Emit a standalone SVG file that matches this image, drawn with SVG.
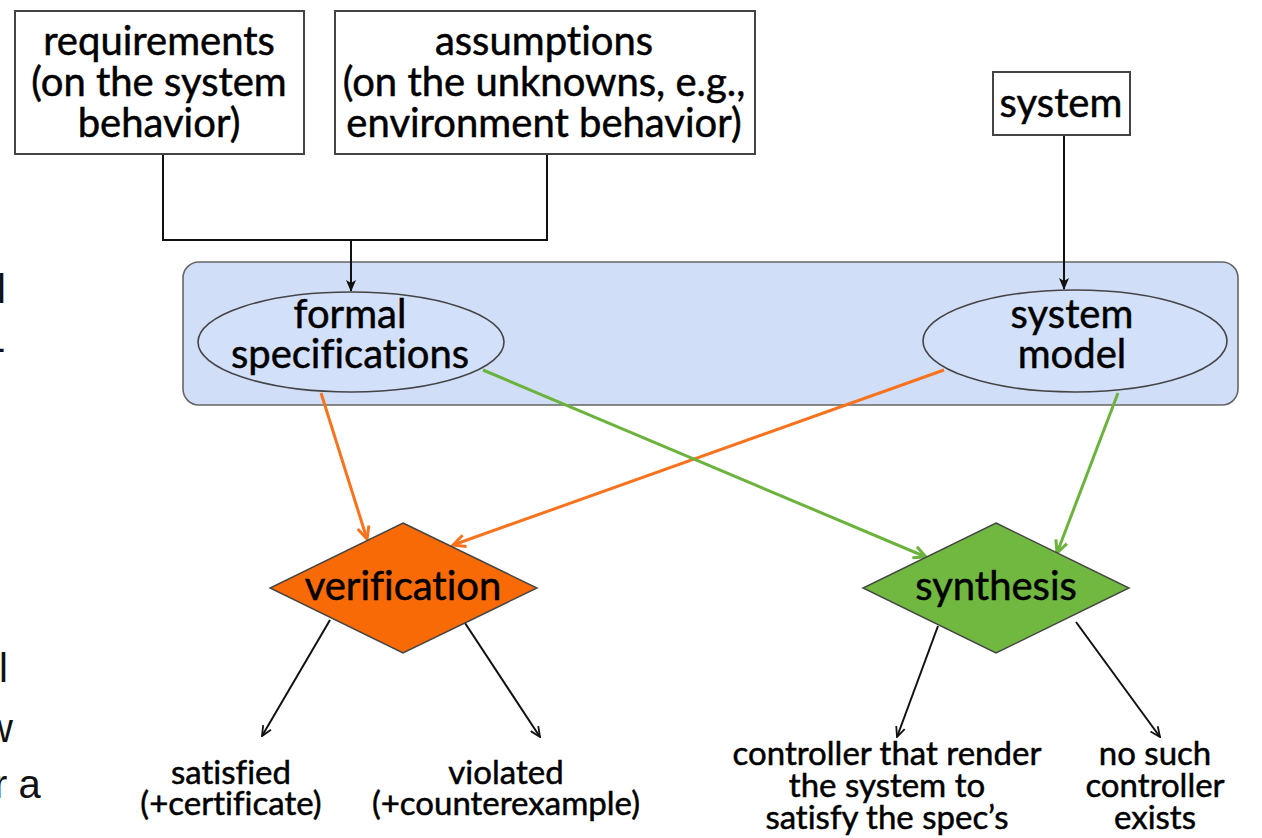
<svg xmlns="http://www.w3.org/2000/svg" width="1262" height="838" viewBox="0 0 1262 838">
  <style>
    .lbl { font-family: Lato, "Open Sans", "DejaVu Sans", sans-serif; fill: #000; stroke: #000; stroke-width: 0.5; text-anchor: middle; font-variant-ligatures: none; }
    .big { font-size: 40px; }
    .small { font-size: 33px; }
    .edge { font-family: "Liberation Sans", Arial, sans-serif; font-size: 40px; fill: #111; }
    .box { fill: #fff; stroke: #444; stroke-width: 2; }
    .oval { fill: #d3e0f9; stroke: #444; stroke-width: 1.6; }
    .wire { fill: none; stroke: #111; stroke-width: 2; }
    .orange { fill: none; stroke: #f8731e; stroke-width: 3; }
    .green { fill: none; stroke: #6cb33e; stroke-width: 3; }
  </style>
  <defs>
    <marker id="ah-solid" viewBox="0 0 12 12" refX="11" refY="6" markerWidth="12" markerHeight="12" markerUnits="userSpaceOnUse" orient="auto">
      <path d="M0,1 L12,6 L0,11 L3,6 z" fill="#111"/>
    </marker>
    <marker id="ah-black" viewBox="0 0 12 12" refX="11" refY="6" markerWidth="12" markerHeight="12" markerUnits="userSpaceOnUse" orient="auto">
      <path d="M1,1.5 L11,6 L1,10.5" fill="none" stroke="#111" stroke-width="1.8"/>
    </marker>
    <marker id="ah-orange" viewBox="0 0 14 14" refX="12.5" refY="7" markerWidth="15" markerHeight="15" markerUnits="userSpaceOnUse" orient="auto">
      <path d="M1,1.5 L12.5,7 L1,12.5" fill="none" stroke="#f8731e" stroke-width="2.8"/>
    </marker>
    <marker id="ah-green" viewBox="0 0 14 14" refX="12.5" refY="7" markerWidth="15" markerHeight="15" markerUnits="userSpaceOnUse" orient="auto">
      <path d="M1,1.5 L12.5,7 L1,12.5" fill="none" stroke="#6cb33e" stroke-width="2.8"/>
    </marker>
  </defs>

  <rect width="1262" height="838" fill="#fff"/>

  <!-- text running off the left edge -->
  <g id="edge-text">
    <text class="edge" x="-3" y="303">l</text>
    <text class="edge" x="-8" y="361">-</text>
    <text class="edge" x="-1" y="682">l</text>
    <text class="edge" x="-16" y="742">w</text>
    <text class="edge" x="-6" y="798">r a</text>
  </g>

  <!-- model container -->
  <g id="model-container">
    <rect x="183" y="262" width="1055" height="143" rx="16" ry="16" fill="#d0def8" stroke="#666" stroke-width="1.6"/>
  </g>

  <g id="connectors">
    <path class="wire" d="M163,154 V240 H547 V154"/>
    <path class="wire" d="M351,240 V291" marker-end="url(#ah-solid)"/>
    <path class="wire" d="M1064,135 V289" marker-end="url(#ah-solid)"/>
    <path class="orange" d="M321,393 L367,539" marker-end="url(#ah-orange)"/>
    <path class="orange" d="M944,370 L453,545" marker-end="url(#ah-orange)"/>
    <path class="green" d="M483,370 L926,557" marker-end="url(#ah-green)"/>
    <path class="green" d="M1118,393 L1057,553" marker-end="url(#ah-green)"/>
    <path class="wire" d="M330,620 L262,736" marker-end="url(#ah-black)"/>
    <path class="wire" d="M463,620 L540,737" marker-end="url(#ah-black)"/>
    <path class="wire" d="M938,626 L897,737" marker-end="url(#ah-black)"/>
    <path class="wire" d="M1076,622 L1160,737" marker-end="url(#ah-black)"/>
  </g>

  <g id="requirements">
    <rect class="box" x="15" y="11" width="289" height="143"/>
    <text class="lbl big" x="159" y="55">requirements</text>
    <text class="lbl big" x="159" y="96">(on the system</text>
    <text class="lbl big" x="159" y="137">behavior)</text>
  </g>

  <g id="assumptions">
    <rect class="box" x="335" y="11" width="420" height="143"/>
    <text class="lbl big" x="544" y="55">assumptions</text>
    <text class="lbl big" x="544" y="96">(on the unknowns, e.g.,</text>
    <text class="lbl big" x="544" y="137">environment behavior)</text>
  </g>

  <g id="system">
    <rect class="box" x="993" y="72" width="137" height="63"/>
    <text class="lbl big" x="1061" y="117">system</text>
  </g>

  <g id="formal-specifications">
    <ellipse class="oval" cx="351" cy="342" rx="153" ry="50"/>
    <text class="lbl big" x="350" y="328">formal</text>
    <text class="lbl big" x="350" y="368">specifications</text>
  </g>

  <g id="system-model">
    <ellipse class="oval" cx="1075" cy="341" rx="152" ry="51"/>
    <text class="lbl big" x="1072" y="328">system</text>
    <text class="lbl big" x="1072" y="368">model</text>
  </g>

  <g id="verification">
    <polygon points="403,523 537,588 403,653 270,588" fill="#f76a05" stroke="#444" stroke-width="1.4"/>
    <text class="lbl big" x="403" y="600">verification</text>
  </g>

  <g id="synthesis">
    <polygon points="996,523 1129,588 996,653 863,588" fill="#71b841" stroke="#444" stroke-width="1.4"/>
    <text class="lbl big" x="996" y="600">synthesis</text>
  </g>

  <g id="satisfied">
    <text class="lbl small" x="231" y="784">satisfied</text>
    <text class="lbl small" x="231" y="815">(+certificate)</text>
  </g>

  <g id="violated">
    <text class="lbl small" x="506" y="784">violated</text>
    <text class="lbl small" x="506" y="815">(+counterexample)</text>
  </g>

  <g id="controller">
    <text class="lbl small" x="887" y="765">controller that render</text>
    <text class="lbl small" x="887" y="797">the system to</text>
    <text class="lbl small" x="887" y="829">satisfy the spec’s</text>
  </g>

  <g id="no-controller">
    <text class="lbl small" x="1155" y="765">no such</text>
    <text class="lbl small" x="1155" y="797">controller</text>
    <text class="lbl small" x="1155" y="829">exists</text>
  </g>
</svg>
